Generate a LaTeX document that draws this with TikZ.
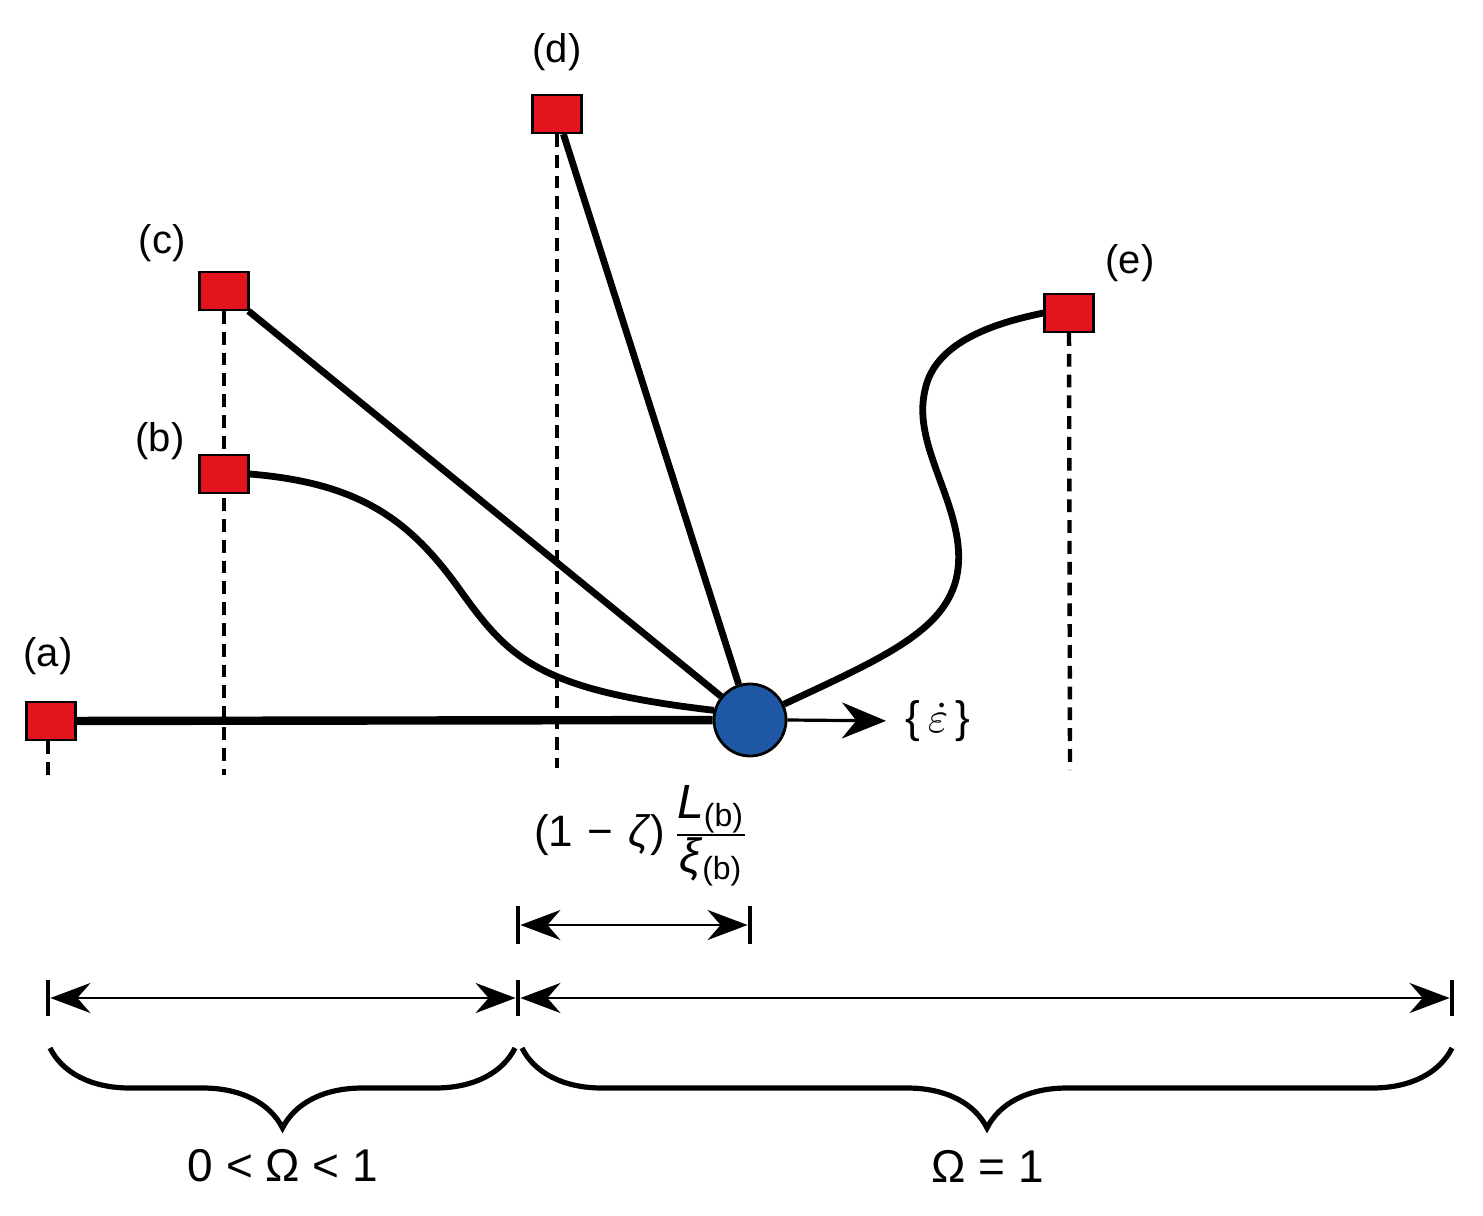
\documentclass[tikz,border=0pt]{standalone}
\usepackage{fontspec}
\setmainfont{Liberation Sans}
\usetikzlibrary{arrows.meta,decorations.pathreplacing,backgrounds}

\tikzset{every picture/.style={line width=0.75pt}}
\definecolor{anchorred}{RGB}{228,20,30}
\definecolor{ballblue}{RGB}{30,88,165}

\begin{document}
\begin{tikzpicture}[x=0.25pt,y=0.25pt,yscale=-1,xscale=1,
  anchorbox/.style={draw=black,line width=0.6pt,fill=anchorred,minimum width=12.2pt,minimum height=9.4pt,inner sep=0pt},
  endball/.style={circle,draw=black,line width=0.7pt,fill=ballblue,minimum size=18pt,inner sep=0pt},
  wire/.style={line width=1.7pt},
  plumb/.style={line width=1.1pt,dash pattern=on 3.2pt off 2pt},
  dimline/.style={line width=0.7pt,{Stealth[length=10pt,width=7.5pt]}-{Stealth[length=10pt,width=7.5pt]},shorten <=0.6pt,shorten >=0.6pt},
  dimtick/.style={line width=1.1pt},
  curly/.style={decorate,decoration={brace,amplitude=20pt},line width=1.3pt},
  lbl/.style={font=\fontsize{10}{12}\selectfont,inner sep=0.75pt}]
\useasboundingbox (0,0) rectangle (1483,1216);

%Shape: Squares (anchors)
\node[anchorbox] (a) at (51,721) {};
\node[anchorbox] (b) at (224,474) {};
\node[anchorbox] (c) at (224,291) {};
\node[anchorbox] (d) at (557,114) {};
\node[anchorbox] (e) at (1069,313) {};
%Shape: Circle
\node[endball] (tip) at (750,720) {};

%Dashed plumb lines
\coordinate (pa) at (48,782);
\coordinate (pc) at (224,775);
\coordinate (pd) at (557,768);
\coordinate (pe) at (1070,770);
\begin{pgfonlayer}{background}
\draw[plumb] (a.south -| pa) -- (pa);
\draw[plumb] (c.south) -- (pc);
\draw[plumb] (d.south) -- (pd);
\draw[plumb] (e.south) -- (pe);
%Wires
\draw[line width=2.1pt] (a) -- (tip);
\draw[wire] (b.east) .. controls (360,483) and (410,520) .. (460,590) .. controls (510,660) and (540,690) .. (tip.165);
\draw[wire] (c) -- (tip);
\draw[wire] (d) -- (tip);
\draw[wire] (tip.25) .. controls (900,650) and (966,622) .. (958,545) .. controls (952,490) and (913,440) .. (925,390) .. controls (935,340) and (1000,322) .. (e.west);
\end{pgfonlayer}

% Text Nodes
\node[lbl] (la) at (48,656) {(a)};
\node[lbl] (lb) at (160,441) {(b)};
\node[lbl] (lc) at (162,243) {(c)};
\node[lbl] (ld) at (557,52) {(d)};
\node[lbl] (le) at (1130,263) {(e)};

%Rate arrow
\node[lbl,font=\fontsize{11}{13}\selectfont] (rate) at (938,721) {\{\,$\dot{\varepsilon}$\,\}};
\draw[line width=0.8pt,-{Stealth[length=11pt,width=9pt]},shorten >=4pt] (tip.east) -- (rate.west);

% Text Node
\node[lbl,font=\fontsize{11}{13}\selectfont] (gap) at (642,836) {(1\,\,−\,\,\textit{ζ})\,$\frac{\mbox{\fontsize{12}{13}\selectfont\textit{L}\textsubscript{(b)}}}{\mbox{\fontsize{12}{13}\selectfont\textit{ξ}\textsubscript{(b)}}}$};

%Dimension lines
\coordinate (s1) at (518,925);
\coordinate (s2) at (750,925);
\draw[dimline] (s1) -- (s2);
\draw[dimtick] (s1) ++(0,-19) -- ++(0,38);
\draw[dimtick] (s2) ++(0,-19) -- ++(0,38);

\coordinate (o1) at (48,998);
\coordinate (o2) at (518,998);
\coordinate (o3) at (1452,998);
\draw[dimline] (o1) -- (o2);
\draw[dimline] (o2) -- (o3);
\draw[dimtick] (o1) ++(0,-18) -- ++(0,36);
\draw[dimtick] (o2) ++(0,-18) -- ++(0,36);
\draw[dimtick] (o3) ++(0,-18) -- ++(0,36);

%Braces
\draw[curly] (515,1048) -- (50,1048);
\draw[curly] (1452,1048) -- (522,1048);

% Text Node
\node[lbl,font=\fontsize{11.5}{13}\selectfont] (lpart) at (283,1166) {0 < Ω < 1};
\node[lbl,font=\fontsize{11.5}{13}\selectfont] (lfull) at (988,1166) {Ω = 1};

\end{tikzpicture}
\end{document}
